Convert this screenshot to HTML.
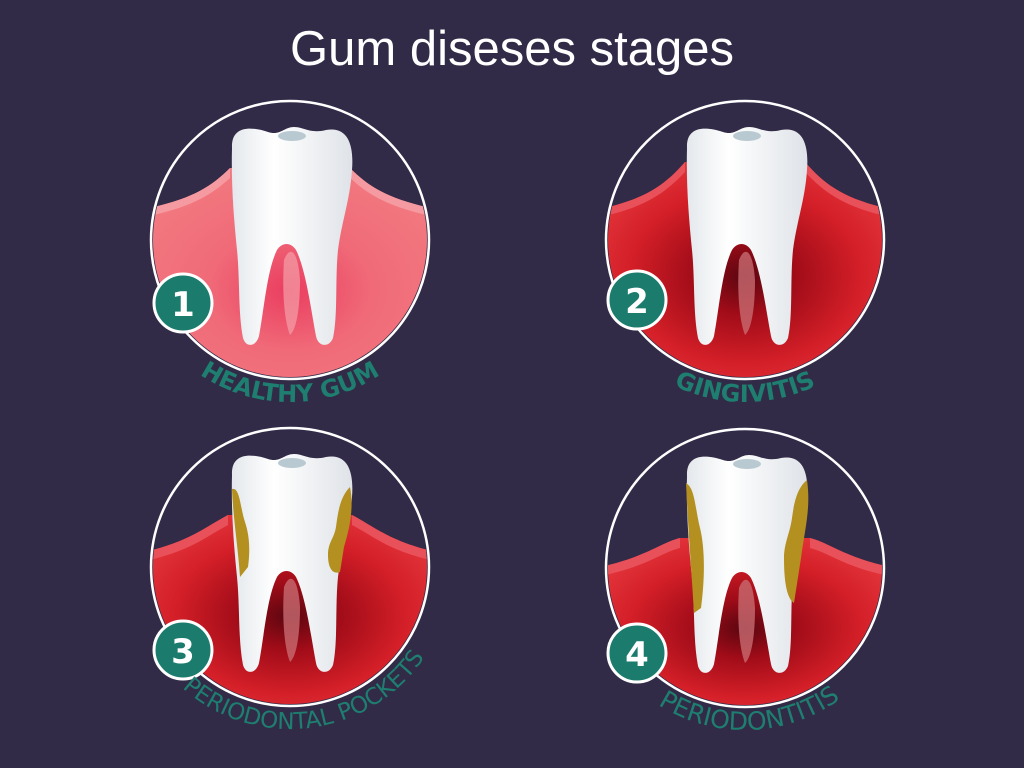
<!DOCTYPE html>
<html><head><meta charset="utf-8"><style>
html,body{margin:0;padding:0;background:#322b48;}
svg{display:block}
</style></head><body>
<svg width="1024" height="768" viewBox="0 0 1024 768" xmlns="http://www.w3.org/2000/svg">
<defs>
  <path id="tooth" d="M -58,-92 C -59,-114 -40,-114 -22,-108 C -10,-104 -6,-113 4,-113 C 14,-113 20,-106 36,-110 C 58,-114 64,-95 62,-70 C 60,-40 52,-20 48,10 C 45,40 48,75 43,98 C 39,108 28,107 26,96 C 21,70 16,30 6,10 C 1,2 -8,2 -13,10 C -23,30 -26,70 -31,96 C -34,107 -44,108 -47,98 C -52,72 -50,40 -53,10 C -56,-20 -59,-55 -58,-92 Z"/>
  <linearGradient id="tg" x1="0" y1="0" x2="1" y2="0">
    <stop offset="0" stop-color="#e4e8ec"/><stop offset="0.35" stop-color="#ffffff"/><stop offset="1" stop-color="#dfe3e8"/>
  </linearGradient>
  <radialGradient id="pink" cx="0.5" cy="0.55" r="0.6">
    <stop offset="0" stop-color="#ea3d60"/><stop offset="0.45" stop-color="#f06a78"/><stop offset="1" stop-color="#f27a80"/>
  </radialGradient>
  <radialGradient id="red" cx="0.5" cy="0.5" r="0.55">
    <stop offset="0" stop-color="#5a0610"/><stop offset="0.3" stop-color="#a00c18"/><stop offset="0.7" stop-color="#d41f28"/><stop offset="1" stop-color="#e2343a"/>
  </radialGradient>
  <clipPath id="cc"><circle cx="0" cy="0" r="137"/></clipPath>
  <path id="arc1" d="M 128,240 A 162 162 0 0 0 452,240"/>
  <path id="arc2" d="M 583,240 A 162 162 0 0 0 907,240"/>
  <path id="arc3" d="M 128,567 A 162 162 0 0 0 452,567"/>
  <path id="arc4" d="M 583,568 A 162 162 0 0 0 907,568"/>
</defs>

<text x="512" y="65" text-anchor="middle" fill="#fff" font-family="Liberation Sans, sans-serif" font-size="49">Gum diseses stages</text>

<!-- 1 -->
<g transform="translate(290,240)">
  <circle r="139" fill="#322b48" stroke="#fff" stroke-width="2.5"/>
  <g clip-path="url(#cc)">
    <path d="M -150,-30 C -100,-40 -80,-52 -60,-72 L 60,-72 C 80,-52 100,-40 150,-30 L 150,150 L -150,150 Z" fill="url(#pink)"/>
    <path d="M -150,-30 C -100,-40 -80,-52 -60,-72 L -60,-62 C -80,-44 -100,-32 -150,-22 Z" fill="#f59aa0"/>
    <path d="M 150,-30 C 100,-40 80,-52 60,-72 L 60,-62 C 80,-44 100,-32 150,-22 Z" fill="#f59aa0"/>
    <path d="M -6,20 C 0,5 8,10 10,40 C 10,70 6,90 0,95 C -6,80 -8,50 -6,20 Z" fill="#f4a0a8" opacity="0.7"/>
    <use href="#tooth" fill="url(#tg)"/>
    <ellipse cx="2" cy="-104" rx="14" ry="5" fill="#b9c9d2"/>
  </g>
</g>
<circle cx="183" cy="303" r="29" fill="#1b7b6d" stroke="#fff" stroke-width="3"/>
<text x="183" y="316" text-anchor="middle" fill="#fff" font-family="DejaVu Sans, sans-serif" font-weight="bold" font-size="34">1</text>
<text fill="#1e7e70" font-family="DejaVu Sans, sans-serif" font-weight="bold" font-size="24"><textPath href="#arc1" startOffset="50%" text-anchor="middle">HEALTHY GUM</textPath></text>

<!-- 2 -->
<g transform="translate(745,240)">
  <circle r="139" fill="#322b48" stroke="#fff" stroke-width="2.5"/>
  <g clip-path="url(#cc)">
    <path d="M -150,-30 C -100,-40 -80,-55 -60,-78 L 60,-78 C 80,-55 100,-40 150,-30 L 150,150 L -150,150 Z" fill="url(#red)"/>
    <path d="M -150,-30 C -100,-40 -80,-55 -60,-78 L -60,-68 C -80,-47 -100,-32 -150,-22 Z" fill="#e8505a"/>
    <path d="M 150,-30 C 100,-40 80,-55 60,-78 L 60,-68 C 80,-47 100,-32 150,-22 Z" fill="#e8505a"/>
    <path d="M -6,20 C 0,5 8,10 10,40 C 10,70 6,90 0,95 C -6,80 -8,50 -6,20 Z" fill="#c86a70" opacity="0.8"/>
    <use href="#tooth" fill="url(#tg)"/>
    <ellipse cx="2" cy="-104" rx="14" ry="5" fill="#b9c9d2"/>
  </g>
</g>
<circle cx="637" cy="300" r="29" fill="#1b7b6d" stroke="#fff" stroke-width="3"/>
<text x="637" y="313" text-anchor="middle" fill="#fff" font-family="DejaVu Sans, sans-serif" font-weight="bold" font-size="34">2</text>
<text fill="#1e7e70" font-family="DejaVu Sans, sans-serif" font-weight="bold" font-size="24"><textPath href="#arc2" startOffset="50%" text-anchor="middle">GINGIVITIS</textPath></text>

<!-- 3 -->
<g transform="translate(290,567)">
  <circle r="139" fill="#322b48" stroke="#fff" stroke-width="2.5"/>
  <g clip-path="url(#cc)">
    <path d="M -150,-14 C -100,-25 -85,-40 -62,-52 L 62,-52 C 85,-40 100,-25 150,-14 L 150,150 L -150,150 Z" fill="url(#red)"/>
    <path d="M -150,-14 C -100,-25 -85,-40 -62,-52 L -62,-42 C -85,-30 -100,-15 -150,-5 Z" fill="#e8505a"/>
    <path d="M 150,-14 C 100,-25 85,-40 62,-52 L 62,-42 C 85,-30 100,-15 150,-5 Z" fill="#e8505a"/>
    <path d="M -6,20 C 0,5 8,10 10,40 C 10,70 6,90 0,95 C -6,80 -8,50 -6,20 Z" fill="#c86a70" opacity="0.8"/>
    <use href="#tooth" fill="url(#tg)"/>
    <path d="M -58,-78 C -50,-80 -50,-60 -45,-45 C -40,-30 -40,-15 -42,0 L -50,10 C -52,-20 -57,-50 -58,-78 Z" fill="#b3901f"/>
    <path d="M 60,-80 C 64,-60 60,-40 54,-20 L 50,5 C 42,8 38,0 38,-12 C 38,-25 44,-28 46,-40 C 48,-55 50,-70 60,-80 Z" fill="#b3901f"/>
    <ellipse cx="2" cy="-104" rx="14" ry="5" fill="#b9c9d2"/>
  </g>
</g>
<circle cx="183" cy="650" r="29" fill="#1b7b6d" stroke="#fff" stroke-width="3"/>
<text x="183" y="663" text-anchor="middle" fill="#fff" font-family="DejaVu Sans, sans-serif" font-weight="bold" font-size="34">3</text>
<text fill="#1e7e70" font-family="DejaVu Sans, sans-serif" font-size="23"><textPath href="#arc3" startOffset="54%" text-anchor="middle">PERIODONTAL POCKETS</textPath></text>

<!-- 4 -->
<g transform="translate(745,568)">
  <circle r="139" fill="#322b48" stroke="#fff" stroke-width="2.5"/>
  <g clip-path="url(#cc)">
    <path d="M -150,0 C -100,-10 -85,-25 -65,-30 L 65,-30 C 85,-25 100,-10 150,0 L 150,150 L -150,150 Z" fill="url(#red)"/>
    <path d="M -150,0 C -100,-10 -85,-25 -65,-30 L -65,-20 C -85,-15 -100,0 -150,9 Z" fill="#e8505a"/>
    <path d="M 150,0 C 100,-10 85,-25 65,-30 L 65,-20 C 85,-15 100,0 150,9 Z" fill="#e8505a"/>
    <path d="M -6,20 C 0,5 8,10 10,40 C 10,70 6,90 0,95 C -6,80 -8,50 -6,20 Z" fill="#c86a70" opacity="0.8"/>
    <use href="#tooth" fill="url(#tg)"/>
    <path d="M -59,-85 C -50,-80 -50,-60 -45,-40 C -40,-20 -40,10 -44,40 L -51,45 C -53,10 -57,-40 -59,-85 Z" fill="#b3901f"/>
    <path d="M 62,-88 C 66,-60 60,-40 56,-10 L 49,35 C 41,30 39,10 39,-10 C 39,-25 45,-35 47,-50 C 49,-65 52,-80 62,-88 Z" fill="#b3901f"/>
    <ellipse cx="2" cy="-104" rx="14" ry="5" fill="#b9c9d2"/>
  </g>
</g>
<circle cx="637" cy="653" r="29" fill="#1b7b6d" stroke="#fff" stroke-width="3"/>
<text x="637" y="666" text-anchor="middle" fill="#fff" font-family="DejaVu Sans, sans-serif" font-weight="bold" font-size="34">4</text>
<text fill="#1e7e70" font-family="DejaVu Sans, sans-serif" font-size="25"><textPath href="#arc4" startOffset="51%" text-anchor="middle">PERIODONTITIS</textPath></text>
</svg>
</body></html>
